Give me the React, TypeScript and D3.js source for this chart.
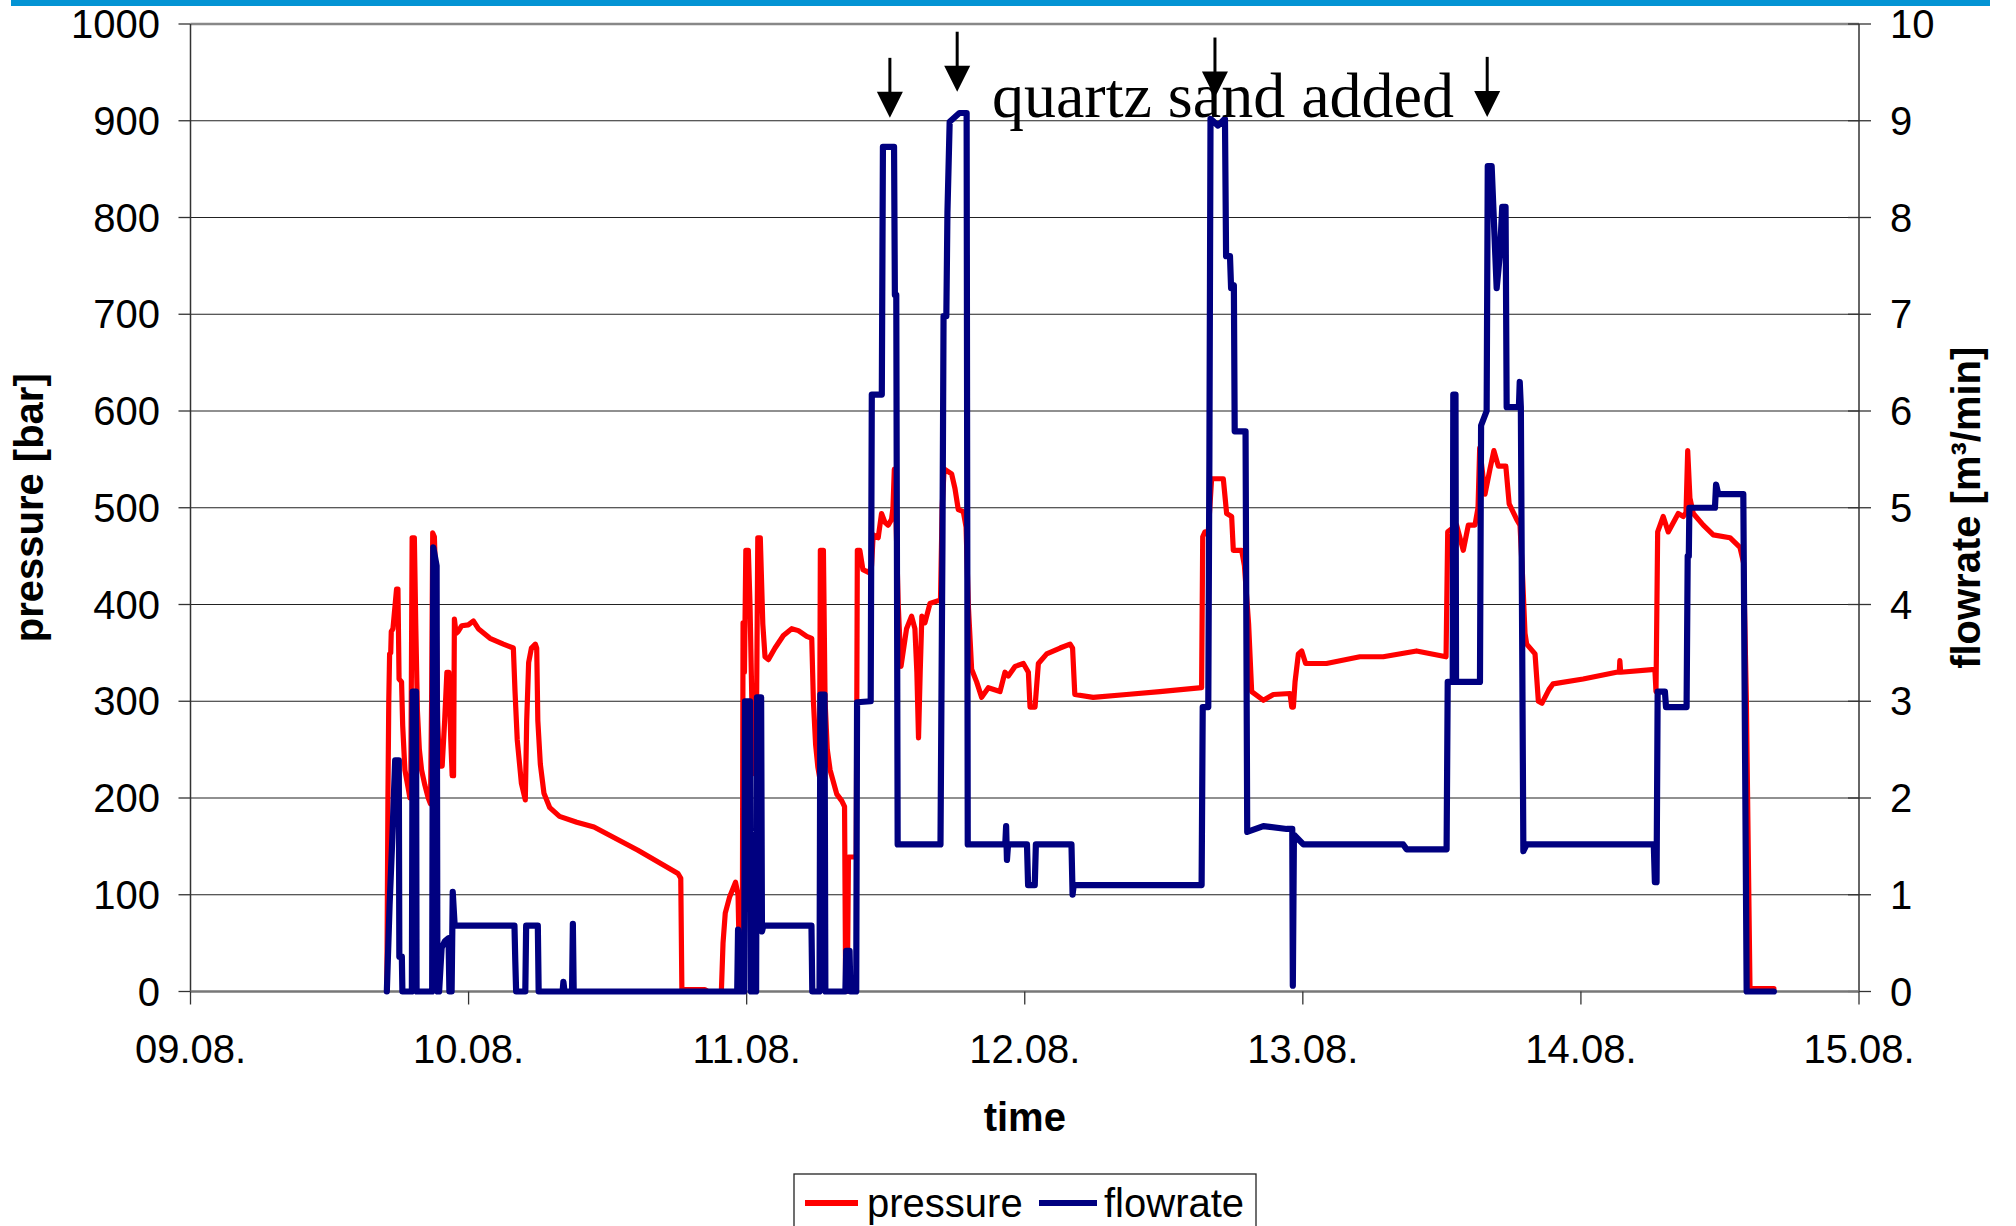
import React from "react";
import * as d3 from "d3";

const W = 2016;
const H = 1226;

const startDate = new Date(2006, 7, 9);
const endDate = new Date(2006, 7, 15);

const pressureTicks = [0, 100, 200, 300, 400, 500, 600, 700, 800, 900, 1000];
const flowTicks = [0, 1, 2, 3, 4, 5, 6, 7, 8, 9, 10];

// [days since 09.08. 00:00, pressure in bar]
const pressure: [number, number][] = [
  [0.706, 0], [0.710, 200], [0.713, 300], [0.716, 349], [0.720, 350], [0.722, 372], [0.728, 375],
  [0.741, 416], [0.746, 416], [0.750, 323], [0.759, 320], [0.763, 275], [0.771, 229], [0.783, 210],
  [0.789, 200], [0.792, 200], [0.797, 469], [0.805, 469], [0.810, 380], [0.816, 290], [0.823, 250],
  [0.831, 229], [0.843, 213], [0.855, 200], [0.863, 194], [0.867, 300], [0.871, 474], [0.877, 470],
  [0.882, 420], [0.889, 280], [0.895, 233], [0.905, 233], [0.914, 280], [0.922, 330], [0.929, 330],
  [0.936, 260], [0.941, 223], [0.946, 223], [0.949, 385], [0.955, 370], [0.962, 372], [0.975, 378],
  [0.999, 379], [1.017, 383], [1.035, 375], [1.077, 365], [1.125, 359], [1.161, 355], [1.167, 310],
  [1.175, 260], [1.190, 215], [1.204, 198], [1.209, 280], [1.216, 340], [1.226, 355], [1.240, 359],
  [1.245, 355], [1.249, 280], [1.258, 235], [1.271, 205], [1.292, 190], [1.327, 181], [1.389, 175],
  [1.451, 170], [1.609, 146], [1.753, 122], [1.763, 117], [1.767, 2], [1.850, 2], [1.860, 0],
  [1.909, 0], [1.915, 50], [1.923, 81], [1.939, 98], [1.960, 113], [1.969, 100], [1.976, 0],
  [1.984, 0], [1.987, 381], [1.992, 330], [1.997, 456], [2.006, 456], [2.012, 400], [2.020, 280],
  [2.028, 225], [2.034, 230], [2.040, 469], [2.049, 469], [2.058, 380], [2.066, 346], [2.078, 343],
  [2.102, 355], [2.132, 368], [2.162, 375], [2.186, 373], [2.216, 367], [2.234, 365], [2.240, 300],
  [2.248, 255], [2.256, 232], [2.262, 222], [2.265, 456], [2.276, 456], [2.282, 300], [2.290, 250],
  [2.300, 229], [2.324, 204], [2.342, 197], [2.352, 191], [2.356, 0], [2.362, 0], [2.366, 139],
  [2.382, 139], [2.394, 139], [2.398, 456], [2.407, 456], [2.418, 436], [2.440, 433], [2.449, 440],
  [2.455, 472], [2.473, 469], [2.485, 494], [2.497, 485], [2.509, 482], [2.521, 488], [2.526, 500],
  [2.531, 540], [2.536, 500], [2.545, 400], [2.555, 336], [2.575, 375], [2.593, 388], [2.605, 375],
  [2.612, 330], [2.618, 262], [2.624, 330], [2.630, 388], [2.641, 381], [2.659, 401], [2.689, 404],
  [2.697, 404], [2.703, 500], [2.710, 540], [2.737, 535], [2.749, 520], [2.761, 498], [2.779, 496],
  [2.789, 480], [2.797, 400], [2.809, 333], [2.827, 320], [2.845, 304], [2.869, 314], [2.911, 310],
  [2.929, 330], [2.941, 326], [2.965, 336], [2.995, 339], [3.013, 330], [3.019, 294], [3.037, 294],
  [3.049, 339], [3.079, 349], [3.127, 355], [3.163, 359], [3.172, 355], [3.180, 307], [3.246, 304],
  [3.366, 307], [3.486, 310], [3.636, 314], [3.640, 470], [3.648, 475], [3.660, 475], [3.672, 530],
  [3.714, 530], [3.726, 494], [3.744, 491], [3.750, 456], [3.780, 456], [3.790, 440], [3.805, 380],
  [3.816, 310], [3.858, 301], [3.894, 307], [3.954, 308], [3.960, 294], [3.966, 294], [3.972, 320],
  [3.984, 349], [3.996, 352], [4.010, 339], [4.085, 339], [4.205, 346], [4.289, 346], [4.409, 352],
  [4.515, 346], [4.521, 475], [4.553, 482], [4.577, 456], [4.595, 482], [4.619, 482], [4.630, 500],
  [4.636, 562], [4.655, 514], [4.673, 540], [4.687, 559], [4.703, 543], [4.730, 543], [4.742, 504],
  [4.769, 488], [4.781, 482], [4.790, 430], [4.799, 370], [4.805, 359], [4.835, 349], [4.847, 300],
  [4.860, 298], [4.885, 312], [4.900, 318], [5.008, 323], [5.128, 330], [5.138, 330], [5.140, 342],
  [5.143, 330], [5.266, 333], [5.270, 310], [5.276, 475], [5.296, 491], [5.314, 475], [5.350, 494],
  [5.368, 491], [5.378, 495], [5.384, 559], [5.392, 510], [5.404, 494], [5.440, 482], [5.476, 472],
  [5.536, 469], [5.572, 459], [5.585, 443], [5.595, 300], [5.608, 3], [5.694, 3],
];

// [days since 09.08. 00:00, flowrate in m³/min]
const flowrate: [number, number][] = [
  [0.706, 0], [0.716, 0.9], [0.726, 1.6], [0.736, 2.39], [0.749, 2.39], [0.751, 0.36], [0.760, 0.36],
  [0.762, 0], [0.796, 0], [0.799, 3.1], [0.811, 3.1], [0.813, 0], [0.869, 0], [0.873, 4.59],
  [0.885, 4.4], [0.888, 0], [0.894, 0], [0.903, 0.45], [0.915, 0.52], [0.928, 0.55], [0.931, 0],
  [0.939, 0], [0.943, 1.03], [0.950, 0.68], [1.165, 0.68], [1.168, 0.31], [1.171, 0], [1.204, 0],
  [1.207, 0.68], [1.249, 0.68], [1.252, 0], [1.338, 0], [1.341, 0.1], [1.345, 0], [1.372, 0],
  [1.375, 0.70], [1.378, 0], [1.966, 0], [1.969, 0.64], [1.975, 0], [1.991, 0], [1.994, 3.0],
  [2.012, 3.0], [2.015, 0], [2.034, 0], [2.037, 3.04], [2.052, 3.04], [2.055, 0.62], [2.060, 0.68],
  [2.233, 0.68], [2.236, 0], [2.262, 0], [2.265, 3.07], [2.280, 3.07], [2.283, 0], [2.355, 0],
  [2.358, 0.42], [2.370, 0.42], [2.373, 0], [2.394, 0], [2.397, 2.99], [2.446, 3.0], [2.450, 6.17],
  [2.486, 6.17], [2.490, 8.73], [2.530, 8.73], [2.533, 7.2], [2.538, 7.2], [2.543, 1.52],
  [2.697, 1.52], [2.704, 4.6], [2.708, 6.98], [2.718, 6.98], [2.722, 8.05], [2.730, 8.99],
  [2.765, 9.08], [2.791, 9.08], [2.795, 1.52], [2.930, 1.52], [2.933, 1.71], [2.936, 1.36],
  [2.940, 1.52], [3.008, 1.52], [3.012, 1.10], [3.036, 1.10], [3.040, 1.52], [3.168, 1.52],
  [3.172, 1.0], [3.176, 1.10], [3.636, 1.10], [3.640, 2.94], [3.660, 2.94], [3.664, 5.53],
  [3.668, 9.02], [3.695, 8.95], [3.720, 9.02], [3.724, 7.6], [3.738, 7.6], [3.742, 7.27],
  [3.752, 7.3], [3.755, 5.79], [3.794, 5.79], [3.800, 1.65], [3.858, 1.71], [3.942, 1.68],
  [3.962, 1.68], [3.964, 0.06], [3.968, 1.62], [4.002, 1.52], [4.361, 1.52], [4.373, 1.47],
  [4.517, 1.47], [4.521, 3.2], [4.539, 3.2], [4.541, 6.17], [4.549, 6.17], [4.551, 3.2],
  [4.637, 3.2], [4.641, 5.85], [4.661, 6.0], [4.665, 8.53], [4.679, 8.53], [4.697, 7.27],
  [4.709, 7.63], [4.717, 8.11], [4.729, 8.11], [4.733, 6.04], [4.777, 6.04], [4.780, 6.3],
  [4.784, 6.04], [4.793, 1.45], [4.805, 1.52], [5.262, 1.52], [5.266, 1.13], [5.272, 1.13],
  [5.276, 3.10], [5.302, 3.10], [5.306, 2.94], [5.380, 2.94], [5.384, 4.5], [5.388, 4.5],
  [5.390, 5.0], [5.482, 5.0], [5.486, 5.24], [5.494, 5.14], [5.584, 5.14], [5.596, 0], [5.694, 0],
];

// arrows: [day, flowrate value at arrow tip]
const arrowTips: [number, number][] = [
  [2.515, 9.03], [2.757, 9.30], [3.684, 9.24], [4.663, 9.04],
];
const annotation = { text: "quartz sand added", day: 2.882, value: 9.04 };

const toDate = (d: number) => new Date(startDate.getTime() + d * 86400000);

export default function App() {
  const left = 190.5, right = 1859, top = 24, bottom = 991.5;
  const x = d3.scaleTime().domain([startDate, endDate]).range([left, right]);
  const yP = d3.scaleLinear().domain([0, 1000]).range([bottom, top]);
  const yF = d3.scaleLinear().domain([0, 10]).range([bottom, top]);
  const fmt = d3.timeFormat("%d.%m.");
  const xTicks = x.ticks(d3.timeDay.every(1) as any);

  const lineP = d3.line<[number, number]>().x((d) => x(toDate(d[0]))).y((d) => yP(d[1]));
  const lineF = d3.line<[number, number]>().x((d) => x(toDate(d[0]))).y((d) => yF(d[1]));

  const font = "'Liberation Sans', Arial, sans-serif";
  const midX = (left + right) / 2;
  const midY = (top + bottom) / 2;

  return (
    <svg width={W} height={H} style={{ position: "absolute", left: 0, top: 0, background: "#fff" }}
      fontFamily={font}>
      <rect x={0} y={0} width={W} height={H} fill="#fff" />
      <rect x={11} y={0} width={1979} height={6} fill="#0494d4" />

      {/* gridlines */}
      {pressureTicks.filter((t) => t > 0 && t < 1000).map((t) => (
        <line key={"g" + t} x1={left} x2={right} y1={yP(t)} y2={yP(t)} stroke="#222" strokeWidth={1.1} />
      ))}
      <line x1={left} x2={right} y1={yP(1000)} y2={yP(1000)} stroke="#888" strokeWidth={2.5} />

      {/* left axis */}
      <line x1={left} x2={left} y1={top} y2={bottom} stroke="#333" strokeWidth={1.5} />
      {pressureTicks.map((t) => (
        <g key={"lt" + t}>
          <line x1={left - 12} x2={left} y1={yP(t)} y2={yP(t)} stroke="#333" strokeWidth={1.3} />
          <text x={160} y={yP(t) + 14} textAnchor="end" fontSize={40} fill="#000">{t}</text>
        </g>
      ))}

      {/* right axis */}
      <line x1={right} x2={right} y1={top} y2={bottom} stroke="#333" strokeWidth={1.5} />
      {flowTicks.map((t) => (
        <g key={"rt" + t}>
          <line x1={right - 11} x2={right + 12} y1={yF(t)} y2={yF(t)} stroke="#333" strokeWidth={1.3} />
          <text x={1890} y={yF(t) + 14} textAnchor="start" fontSize={40} fill="#000">{t}</text>
        </g>
      ))}

      {/* x axis */}
      <line x1={left} x2={right} y1={bottom} y2={bottom} stroke="#777" strokeWidth={2.5} />
      {xTicks.map((t, i) => (
        <g key={"xt" + i}>
          <line x1={x(t)} x2={x(t)} y1={bottom} y2={bottom + 13} stroke="#333" strokeWidth={1.3} />
          <text x={x(t)} y={1063} textAnchor="middle" fontSize={40} fill="#000">{fmt(t)}</text>
        </g>
      ))}

      {/* series */}
      <path d={lineP(pressure) || ""} fill="none" stroke="#ff0000" strokeWidth={5.2}
        strokeLinejoin="round" strokeLinecap="round" />
      <path d={lineF(flowrate) || ""} fill="none" stroke="#000080" strokeWidth={6.2}
        strokeLinejoin="round" strokeLinecap="round" />

      {/* annotation */}
      <text x={x(toDate(annotation.day))} y={yF(annotation.value)} fontSize={64}
        fontFamily="'Liberation Serif', 'Times New Roman', serif" fill="#000">{annotation.text}</text>
      {arrowTips.map((a, i) => {
        const ax = x(toDate(a[0]));
        const ay = yF(a[1]);
        return (
          <g key={"ar" + i}>
            <line x1={ax} x2={ax} y1={ay - 60} y2={ay - 20} stroke="#000" strokeWidth={3} />
            <path d={`M${ax - 13},${ay - 26} L${ax + 13},${ay - 26} L${ax},${ay} Z`} fill="#000" />
          </g>
        );
      })}

      {/* axis titles */}
      <text x={midX} y={1131} textAnchor="middle" fontSize={40} fontWeight="bold" fill="#000">time</text>
      <text transform={`translate(43,${midY}) rotate(-90)`} textAnchor="middle" fontSize={40}
        fontWeight="bold" fill="#000">pressure [bar]</text>
      <text transform={`translate(1980,${midY}) rotate(-90)`} textAnchor="middle" fontSize={40}
        fontWeight="bold" fill="#000">flowrate [m³/min]</text>

      {/* legend */}
      <rect x={794} y={1174} width={462} height={70} fill="#fff" stroke="#222" strokeWidth={1.3} />
      <line x1={805} x2={858} y1={1203} y2={1203} stroke="#ff0000" strokeWidth={6} />
      <text x={867} y={1217} fontSize={40} fill="#000">pressure</text>
      <line x1={1039} x2={1097} y1={1203} y2={1203} stroke="#000080" strokeWidth={6} />
      <text x={1104} y={1217} fontSize={40} fill="#000">flowrate</text>
    </svg>
  );
}
